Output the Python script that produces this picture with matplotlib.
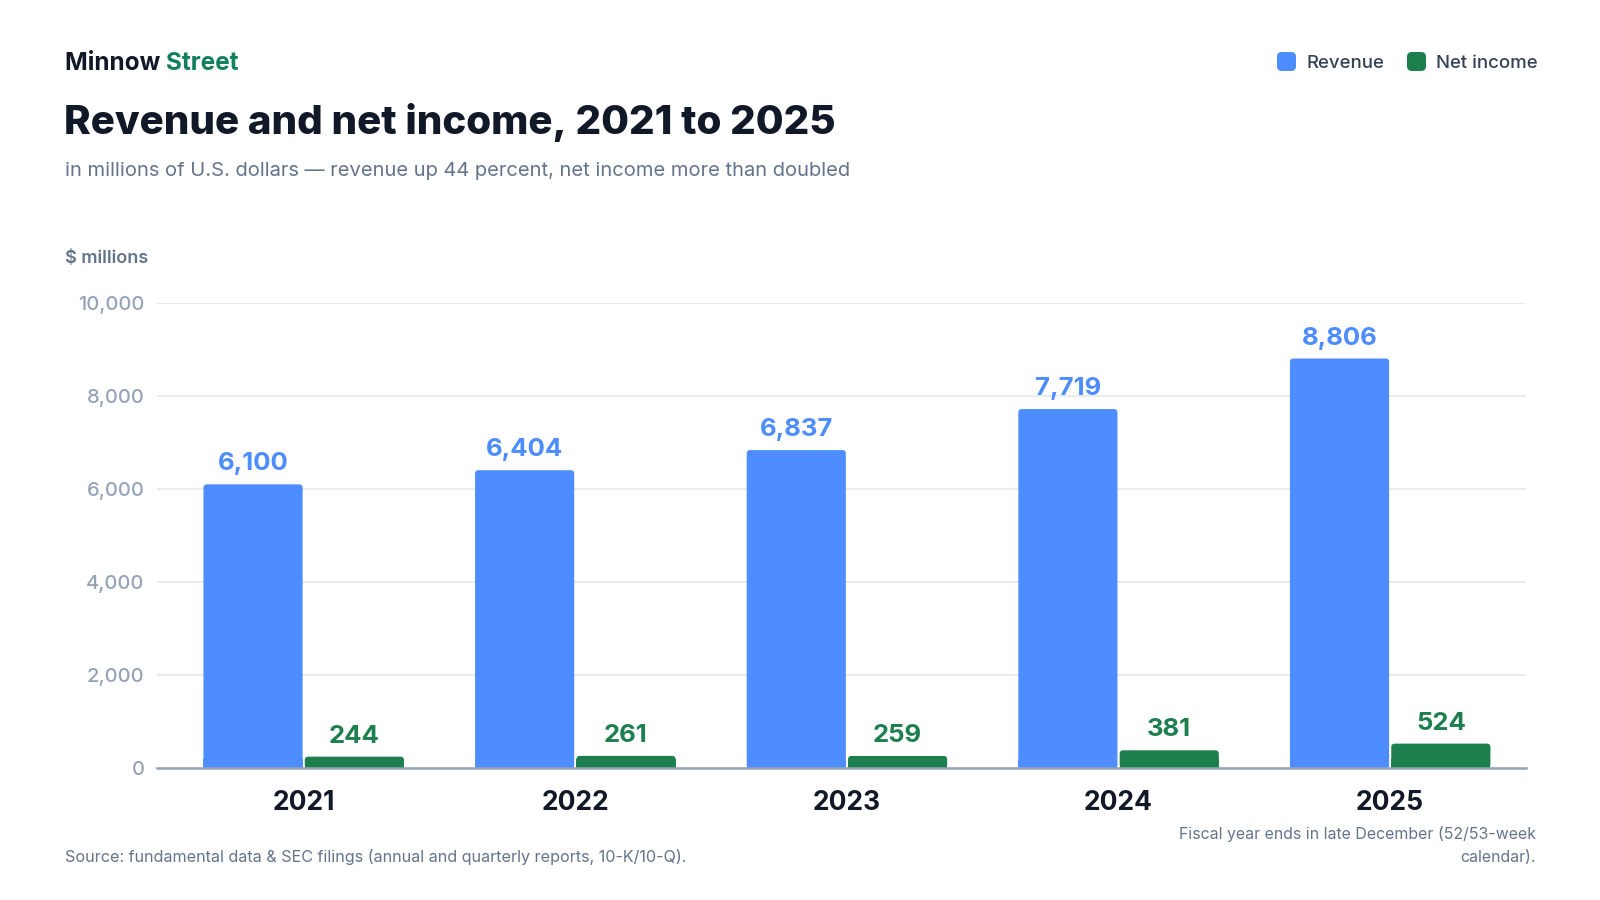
import matplotlib
matplotlib.use("Agg")
import matplotlib.pyplot as plt
import numpy as np
from matplotlib.patches import FancyBboxPatch

years = ["2021", "2022", "2023", "2024", "2025"]
revenue = [6100, 6404, 6837, 7719, 8806]
net_income = [244, 261, 259, 381, 524]
y_ticks = [0, 2000, 4000, 6000, 8000, 10000]

BLUE = "#4d8dff"
GREEN = "#1e7f4e"
DARK = "#111827"
SLATE = "#64748b"
TICK = "#94a3b8"
GRID = "#e5e7eb"

plt.rcParams["font.family"] = ["Inter", "DejaVu Sans"]

W, H = 1600, 900
fig = plt.figure(figsize=(16, 9), dpi=100)
fig.patch.set_facecolor("white")

def fx(px):
    return px / W

def fy(py):
    return 1 - py / H

# axes: x from 157 to 1526 px, y from 303 (10000) to 768 (0)
ax = fig.add_axes([fx(157), fy(768), fx(1526 - 157), (768 - 303) / H])
ax.set_facecolor("white")

x = np.arange(len(years))
bw = 0.365
gap = 0.004
b1 = ax.bar(x - bw / 2 - gap, revenue, width=bw, color=BLUE, zorder=3)
b2 = ax.bar(x + bw / 2 + gap, net_income, width=bw, color=GREEN, zorder=3)

ax.set_xlim(-0.54, 4.50)
ax.set_ylim(0, 10000)

# rounded top corners via FancyBboxPatch
xpx = (1526 - 157) / (4.50 + 0.54)
ypx = (768 - 303) / 10000
for bars in (b1, b2):
    for p in bars:
        x0, y0 = p.get_x(), p.get_y()
        w, h = p.get_width(), p.get_height()
        r = 3.5 / xpx
        fb = FancyBboxPatch((x0, y0), w, h,
                            boxstyle=f"round,pad=0,rounding_size={r}",
                            mutation_aspect=(1 / ypx) / (1 / xpx),
                            facecolor=p.get_facecolor(), edgecolor="none", zorder=3)
        p.set_visible(False)
        ax.add_patch(fb)
        ax.bar(x0 + w / 2, min(h, 200), width=w, bottom=0,
               color=p.get_facecolor(), zorder=3)

for xi, v in zip(x, revenue):
    ax.annotate(f"{v:,}", (xi - bw / 2 - gap, v), xytext=(0, 10),
                textcoords="offset points", ha="center", va="baseline",
                fontsize=18.5, fontweight="bold", color=BLUE)
for xi, v in zip(x, net_income):
    ax.annotate(f"{v:,}", (xi + bw / 2 + gap, v), xytext=(0, 10),
                textcoords="offset points", ha="center", va="baseline",
                fontsize=18.5, fontweight="bold", color=GREEN)

ax.set_yticks(y_ticks)
ax.set_yticklabels([f"{t:,}" for t in y_ticks])
ax.tick_params(axis="y", length=0, pad=9, labelsize=14.5, labelcolor=TICK)
for lab in ax.get_yticklabels():
    lab.set_fontweight("medium")
ax.set_xticks(x)
ax.set_xticklabels(years)
ax.tick_params(axis="x", length=0, pad=16, labelsize=19, labelcolor=DARK)
for lab in ax.get_xticklabels():
    lab.set_fontweight("bold")

ax.grid(axis="y", color=GRID, linewidth=1.2, zorder=0)
ax.set_axisbelow(True)
for s in ["top", "right", "left"]:
    ax.spines[s].set_visible(False)
ax.spines["bottom"].set_color(TICK)
ax.spines["bottom"].set_linewidth(1.8)
ax.spines["bottom"].set_zorder(4)

# Header
t1 = fig.text(fx(65), fy(70), "Minnow ", fontsize=17.5, fontweight="bold",
              color=DARK, va="baseline", ha="left")
fig.canvas.draw()
bb = t1.get_window_extent()
fig.text(bb.x1 / W, fy(70), "Street", fontsize=17.5, fontweight="bold",
         color="#12805c", va="baseline", ha="left")

fig.text(fx(64), fy(134), "Revenue and net income, 2021 to 2025", fontsize=29,
         fontweight="heavy", color=DARK, va="baseline", ha="left")
fig.text(fx(65), fy(176),
         "in millions of U.S. dollars \u2014 revenue up 44 percent, net income more than doubled",
         fontsize=14.5, color=SLATE, va="baseline", ha="left")
fig.text(fx(65), fy(263), "$ millions", fontsize=13, fontweight="semibold",
         color=SLATE, va="baseline", ha="left")

# Legend
for sx, label, col in [(1277, "Revenue", BLUE), (1407, "Net income", GREEN)]:
    sq = FancyBboxPatch((fx(sx), fy(71)), fx(19), 19 / H,
                        boxstyle="round,pad=0,rounding_size=0.003",
                        mutation_aspect=16 / 9,
                        transform=fig.transFigure, facecolor=col,
                        edgecolor="none")
    fig.patches.append(sq)
    fig.text(fx(sx + 29), fy(68), label, fontsize=13.4, fontweight="medium",
             color="#334155", va="baseline", ha="left")

# Footer
fig.text(fx(65), fy(857), "Source: fundamental data & SEC filings (annual and quarterly reports, 10-K/10-Q).",
         fontsize=11.6, color=SLATE, va="center", ha="left")
fig.text(fx(1536), fy(834), "Fiscal year ends in late December (52/53-week",
         fontsize=11.45, color=SLATE, va="center", ha="right")
fig.text(fx(1536), fy(858), "calendar).",
         fontsize=11.45, color=SLATE, va="center", ha="right")

fig.savefig("out.png", dpi=100, facecolor="white")
